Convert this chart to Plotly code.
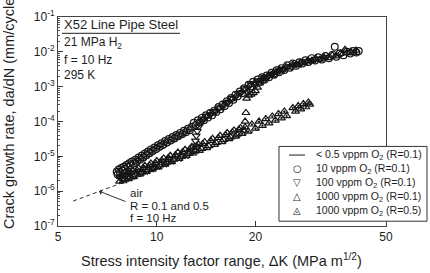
import plotly.graph_objects as go

# ---------------- data ----------------
air_K = [5.56, 6.0, 6.65, 7.3, 8.0, 9.0, 10.0, 12.0, 14.0, 16.0, 18.0, 20.0, 21.0]
air_da = [5.2e-7, 6.8e-7, 9.8e-7, 1.36e-6, 1.85e-6, 2.8e-6, 4.3e-6, 8.3e-6, 1.45e-5,
          2.4e-5, 3.7e-5, 5.5e-5, 6.5e-5]

lowO2_K = [8.7, 9.3, 10.0, 10.8, 11.6, 12.5, 13.5, 14.5, 15.6, 16.8, 18.0, 19.4]
lowO2_da = [5.8e-6, 8.5e-6, 1.3e-5, 2.0e-5, 3.1e-5, 4.7e-5, 7.3e-5, 1.35e-4, 2.3e-4,
            3.8e-4, 6.2e-4, 1.05e-3]

o10_K = [7.55, 7.6, 7.65, 7.72, 7.8, 7.86, 7.93, 8.0, 8.08, 8.16, 8.24, 8.32, 8.4, 8.5,
         8.6, 8.7, 8.8, 8.9, 9.0, 9.1, 9.2, 9.3, 9.4, 9.5, 9.6, 9.72, 9.84, 9.96, 10.08,
         10.2, 10.33, 10.46, 10.6, 10.74, 10.88, 11.02, 11.17, 11.32, 11.47, 11.62, 11.78,
         11.94, 12.1, 12.27, 12.44, 12.61, 12.79, 12.97, 13.15, 13.34, 13.53, 13.72, 13.92,
         14.12, 14.33, 14.54, 14.75, 14.97, 15.19, 15.42, 15.65, 15.88, 16.12, 16.36,
         16.61, 16.86, 17.12, 17.38, 17.65, 17.92, 18.2, 18.48, 18.77, 19.06, 19.36, 19.67,
         19.98, 20.3, 20.63, 20.96, 21.3, 21.65, 22.0, 22.4, 22.8, 23.2, 23.6, 24.0, 24.5,
         25.0, 25.5, 26.0, 26.6, 27.2, 27.8, 28.4, 29.0, 29.7, 30.4, 31.1, 31.9, 32.7,
         33.5, 34.4, 34.9, 35.3, 36.2, 37.1, 38.0, 38.9, 39.7, 40.6, 41.3]
o10_da = [3.6e-6, 3.0e-6, 4.2e-6, 3.5e-6, 4.6e-6, 3.9e-6, 5.0e-6, 4.3e-6, 5.6e-6, 4.9e-6,
          6.3e-6, 5.5e-6, 7.1e-6, 6.2e-6, 8.0e-6, 7.0e-6, 9.2e-6, 8.1e-6, 1.05e-5, 9.3e-6,
          1.2e-5, 1.07e-5, 1.38e-5, 1.23e-5, 1.58e-5, 1.42e-5, 1.8e-5, 1.63e-5, 2.08e-5,
          1.87e-5, 2.38e-5, 2.15e-5, 2.75e-5, 2.48e-5, 3.15e-5, 2.85e-5, 3.6e-5, 3.25e-5,
          4.1e-5, 3.75e-5, 4.7e-5, 4.3e-5, 5.4e-5, 4.9e-5, 6.2e-5, 5.6e-5, 7.1e-5, 9.2e-5,
          8.0e-5, 1.08e-4, 9.3e-5, 1.27e-4, 1.09e-4, 1.5e-4, 1.3e-4, 1.76e-4, 1.5e-4,
          2.05e-4, 1.87e-4, 2.6e-4, 2.25e-4, 3.1e-4, 2.8e-4, 3.8e-4, 3.4e-4, 4.7e-4, 4.2e-4,
          5.9e-4, 5.3e-4, 7.3e-4, 6.5e-4, 9.0e-4, 8.1e-4, 1.13e-3, 1.02e-3, 1.38e-3, 1.2e-3,
          1.6e-3, 1.36e-3, 1.85e-3, 1.58e-3, 2.1e-3, 1.85e-3, 2.5e-3, 2.2e-3, 2.95e-3,
          2.6e-3, 3.4e-3, 3.0e-3, 4.1e-3, 3.5e-3, 4.6e-3, 4.0e-3, 5.0e-3, 4.6e-3, 5.7e-3,
          5.1e-3, 6.6e-3, 5.6e-3, 7.0e-3, 6.0e-3, 7.6e-3, 6.6e-3, 8.3e-3, 1.4e-2, 7.2e-3,
          9.1e-3, 8.0e-3, 1.0e-2, 8.9e-3, 1.06e-2, 9.6e-3, 1.06e-2]

o100_K = [7.72, 7.88, 8.05, 8.2, 8.37, 8.55, 8.75, 8.95, 9.15, 9.35, 9.55, 9.75, 9.95,
          10.2, 10.45, 10.7, 10.95, 11.25, 11.55, 11.85, 12.15, 12.45, 12.75, 12.95, 13.05,
          13.12, 13.2, 13.3, 13.45, 13.7, 13.95, 14.25, 14.55, 14.85, 15.15, 15.5, 15.85,
          16.2, 16.55, 16.9, 17.3, 17.7, 18.1, 18.5, 18.9, 19.35, 19.8, 20.3, 20.8, 21.3,
          21.8, 22.4, 23.0, 23.6, 24.3, 25.0, 25.8, 26.6, 27.5, 28.4, 29.4, 30.4, 31.5, 32.6]
o100_da = [2.5e-6, 2.15e-6, 2.85e-6, 2.45e-6, 3.25e-6, 2.8e-6, 3.8e-6, 3.3e-6, 4.45e-6,
           3.85e-6, 5.2e-6, 4.5e-6, 6.1e-6, 5.3e-6, 7.3e-6, 6.3e-6, 8.6e-6, 7.6e-6, 1.04e-5,
           9.0e-6, 1.25e-5, 1.1e-5, 1.5e-5, 1.45e-5, 2.0e-5, 2.8e-5, 3.9e-5, 5.3e-5, 7.2e-5,
           1.05e-4, 1.2e-4, 1.45e-4, 1.55e-4, 1.9e-4, 2.0e-4, 2.5e-4, 2.65e-4, 3.4e-4, 3.6e-4,
           4.6e-4, 4.9e-4, 6.4e-4, 6.8e-4, 8.8e-4, 9.2e-4, 1.2e-3, 1.22e-3, 1.5e-3, 1.5e-3,
           1.85e-3, 1.85e-3, 2.3e-3, 2.35e-3, 2.9e-3, 2.95e-3, 3.7e-3, 3.7e-3, 4.4e-3,
           4.5e-3, 5.2e-3, 5.4e-3, 6.2e-3, 6.2e-3, 7.0e-3]

o1000_K = [7.7, 7.85, 8.0, 8.15, 8.3, 8.45, 8.6, 8.8, 9.0, 9.2, 9.4, 9.6, 9.8, 10.0, 10.25,
           10.5, 10.75, 11.0, 11.3, 11.6, 11.9, 12.2, 12.5, 12.8, 13.1, 13.4, 13.7, 14.0,
           14.4, 14.8, 15.2, 15.6, 16.0, 16.4, 16.8, 17.2, 17.6, 18.0, 18.4, 18.6, 18.7,
           18.8, 19.1, 19.4, 19.7, 20.0, 20.3, 20.6, 21.0, 21.4, 21.8, 22.2, 22.7, 23.2,
           23.7, 24.2, 24.8, 25.4, 26.0, 26.7, 27.4, 28.1, 28.9, 29.7, 30.5, 31.4, 32.3,
           33.3, 34.3, 35.3, 36.3, 37.5, 38.0, 39.0, 39.8, 40.5]
o1000_da = [1.9e-6, 2.95e-6, 2.2e-6, 3.4e-6, 2.55e-6, 3.9e-6, 2.9e-6, 4.55e-6, 3.45e-6,
            5.4e-6, 4.05e-6, 6.3e-6, 4.75e-6, 7.35e-6, 5.6e-6, 8.8e-6, 6.7e-6, 1.05e-5,
            8.1e-6, 1.29e-5, 9.8e-6, 1.55e-5, 1.18e-5, 1.86e-5, 1.41e-5, 2.2e-5, 1.66e-5,
            2.6e-5, 2.0e-5, 3.2e-5, 2.45e-5, 3.9e-5, 2.98e-5, 4.7e-5, 3.57e-5, 5.6e-5,
            4.26e-5, 6.6e-5, 5.5e-5, 1.0e-4, 1.78e-4, 4.6e-4, 5.6e-4, 6.0e-4, 6.6e-4, 7.5e-4,
            9.5e-4, 1.25e-3, 1.5e-3, 1.7e-3, 2.05e-3, 2.1e-3, 2.55e-3, 2.6e-3, 3.1e-3,
            3.1e-3, 3.7e-3, 3.6e-3, 4.3e-3, 4.2e-3, 5.0e-3, 4.8e-3, 5.7e-3, 5.5e-3, 6.5e-3,
            6.0e-3, 7.2e-3, 6.7e-3, 8.0e-3, 7.5e-3, 8.9e-3, 1.15e-2, 9.5e-3, 1.02e-2, 9.2e-3,
            1.1e-2]

o1000r5_K = [7.75, 7.9, 8.05, 8.2, 8.35, 8.5, 8.7, 8.9, 9.1, 9.3, 9.5, 9.7, 9.9, 10.1,
             10.35, 10.6, 10.85, 11.1, 11.4, 11.7, 12.0, 12.3, 12.6, 12.9, 13.2, 13.5, 13.8,
             14.2, 14.6, 15.0, 15.4, 15.8, 16.2, 16.6, 17.0, 17.4, 17.8, 18.2, 18.6, 19.0,
             19.5, 20.0, 20.5, 21.0, 21.5, 22.0, 22.5, 23.0, 23.5, 24.0, 24.5, 24.9, 26.0,
             26.5, 27.0, 27.5, 28.0, 28.5, 29.0, 29.3]
o1000r5_da = [2.6e-6, 1.95e-6, 3.0e-6, 2.24e-6, 3.45e-6, 2.56e-6, 4.0e-6, 3.05e-6, 4.75e-6,
              3.6e-6, 5.6e-6, 4.2e-6, 6.5e-6, 4.9e-6, 7.7e-6, 5.85e-6, 9.2e-6, 6.95e-6,
              1.1e-5, 8.5e-6, 1.35e-5, 1.02e-5, 1.6e-5, 1.22e-5, 1.92e-5, 1.45e-5, 2.26e-5,
              1.75e-5, 2.8e-5, 2.15e-5, 3.4e-5, 2.6e-5, 4.1e-5, 3.15e-5, 4.95e-5, 3.75e-5,
              5.9e-5, 4.45e-5, 6.9e-5, 5.2e-5, 8.3e-5, 6.3e-5, 1.0e-4, 7.6e-5, 1.19e-4, 9.0e-5,
              1.41e-4, 1.07e-4, 1.66e-4, 1.25e-4, 1.95e-4, 1.45e-4, 2.45e-4, 1.95e-4, 2.8e-4,
              2.25e-4, 3.2e-4, 2.6e-4, 3.55e-4, 3.1e-4]

x_tickvals = [5, 10, 20, 50]
x_ticktext = ["5", "10", "20", "50"]
y_exponents = [-7, -6, -5, -4, -3, -2, -1]

legend_labels = ["&lt; 0.5 vppm O<sub>2</sub> (R=0.1)",
                 "10 vppm O<sub>2</sub> (R=0.1)",
                 "100 vppm O<sub>2</sub> (R=0.1)",
                 "1000 vppm O<sub>2</sub> (R=0.1)",
                 "1000 vppm O<sub>2</sub> (R=0.5)"]
legend_glyphs = ["", "○", "▽", "△", "◬"]

# ---------------- figure ----------------
FONT = "Arial, Liberation Sans, Helvetica, sans-serif"
INK = "#1e1e1e"
MARK = "#161616"
fig = go.Figure()

fig.add_trace(go.Scatter(x=air_K, y=air_da, mode="lines",
                         line=dict(color="#333", width=1, dash="4px,3px"),
                         showlegend=False))
fig.add_trace(go.Scatter(x=lowO2_K, y=lowO2_da, mode="lines",
                         line=dict(color=INK, width=1), showlegend=False))

mk = dict(size=6.8, color=MARK, line=dict(color=MARK, width=1.2))
fig.add_trace(go.Scatter(x=o1000r5_K, y=o1000r5_da, mode="markers",
                         marker=dict(mk, symbol="triangle-up-open-dot"), showlegend=False))
fig.add_trace(go.Scatter(x=o1000_K, y=o1000_da, mode="markers",
                         marker=dict(mk, symbol="triangle-up-open"), showlegend=False))
fig.add_trace(go.Scatter(x=o100_K, y=o100_da, mode="markers",
                         marker=dict(mk, symbol="triangle-down-open"), showlegend=False))
fig.add_trace(go.Scatter(x=o10_K, y=o10_da, mode="markers",
                         marker=dict(mk, symbol="circle-open"), showlegend=False))

# geometry helpers (plot area in pixels: x 58..386, y 8..226)
def px(xp):
    return (xp - 58) / 328.0

def py(yp):
    return (226 - yp) / 218.0

ann = []
shapes = []

# top-left info block
ann.append(dict(text="X52 Line Pipe Steel", x=px(62), y=py(16), xref="paper", yref="paper",
                xanchor="left", yanchor="middle", showarrow=False,
                font=dict(size=13, color=INK, family=FONT)))
shapes.append(dict(type="line", xref="paper", yref="paper", x0=px(62), x1=px(180),
                   y0=py(25), y1=py(25), line=dict(color=INK, width=1)))
for txt, yy in [("21 MPa H<sub>2</sub>", 35), ("f = 10 Hz", 53), ("295 K", 68)]:
    ann.append(dict(text=txt, x=px(62), y=py(yy), xref="paper", yref="paper",
                    xanchor="left", yanchor="middle", showarrow=False,
                    font=dict(size=12, color=INK, family=FONT)))

# air annotation
for txt, yy in [("air", 192), ("R = 0.1 and 0.5", 205), ("f = 10 Hz", 218)]:
    ann.append(dict(text=txt, x=px(128), y=py(yy), xref="paper", yref="paper",
                    xanchor="left", yanchor="middle", showarrow=False,
                    font=dict(size=11.5, color=INK, family=FONT)))
ann.append(dict(text="", x=0.824, y=-6.0, xref="x", yref="y", ax=28, ay=11,
                axref="pixel", ayref="pixel", showarrow=True, arrowhead=1,
                arrowsize=1, arrowwidth=1, arrowcolor="#333"))

# legend (drawn by hand to match the compact box)
shapes.append(dict(type="rect", xref="paper", yref="paper", x0=px(279), x1=px(427),
                   y0=py(221), y1=py(143), line=dict(color="#333", width=1),
                   fillcolor="white", layer="above"))
rows_y = [152, 166.5, 181, 195.5, 210]
shapes.append(dict(type="line", xref="paper", yref="paper", x0=px(289), x1=px(305),
                   y0=py(rows_y[0]), y1=py(rows_y[0]), line=dict(color=INK, width=1),
                   layer="above"))
for lab, gl, yy in zip(legend_labels, legend_glyphs, rows_y):
    if gl:
        ann.append(dict(text=gl, x=px(297), y=py(yy), xref="paper", yref="paper",
                        xanchor="center", yanchor="middle", showarrow=False,
                        font=dict(size=10, color=INK, family="DejaVu Sans")))
    ann.append(dict(text=lab, x=px(314), y=py(yy), xref="paper", yref="paper",
                    xanchor="left", yanchor="middle", showarrow=False,
                    font=dict(size=10.5, color=INK, family=FONT)))

# axis titles
ann.append(dict(text="Stress intensity factor range, ΔK (MPa m<sup>1/2</sup>)",
                x=px(221), y=py(261), xref="paper", yref="paper",
                xanchor="center", yanchor="middle", showarrow=False,
                font=dict(size=14.5, color=INK, family=FONT)))
ann.append(dict(text="Crack growth rate, da/dN (mm/cycle)", textangle=-90,
                x=px(9), y=py(106), xref="paper", yref="paper",
                xanchor="center", yanchor="middle", showarrow=False,
                font=dict(size=14.5, color=INK, family=FONT)))

minor_vals = [m * 10.0 ** e for e in range(-7, -1) for m in range(2, 10)]

fig.update_layout(
    width=430, height=273,
    margin=dict(l=58, r=44, t=8, b=47),
    paper_bgcolor="white", plot_bgcolor="white",
    font=dict(family=FONT, color=INK, size=12),
    showlegend=False,
    annotations=ann, shapes=shapes,
    xaxis=dict(type="log", range=[0.69885, 1.69905], tickmode="array",
               tickvals=x_tickvals, ticktext=x_ticktext, ticks="inside", ticklen=5,
               tickcolor="#333", showline=True, linecolor="#444", linewidth=1,
               mirror=True, showgrid=False, zeroline=False, ticklabeloverflow="allow",
               tickfont=dict(size=12, color=INK, family=FONT)),
    yaxis=dict(type="log", range=[-7.0005, -0.9995], tickmode="array",
               tickvals=[10.0 ** e for e in y_exponents],
               ticktext=["10<sup>%d</sup>" % e for e in y_exponents],
               ticks="inside", ticklen=5, tickcolor="#333", ticklabeloverflow="allow",
               minor=dict(tickmode="array", tickvals=minor_vals, ticks="inside",
                          ticklen=2, tickcolor="#555", showgrid=False),
               showline=True, linecolor="#444", linewidth=1, mirror=True,
               showgrid=False, zeroline=False,
               tickfont=dict(size=12, color=INK, family=FONT)),
)

fig.write_html("out.html", config=dict(displayModeBar=False))
